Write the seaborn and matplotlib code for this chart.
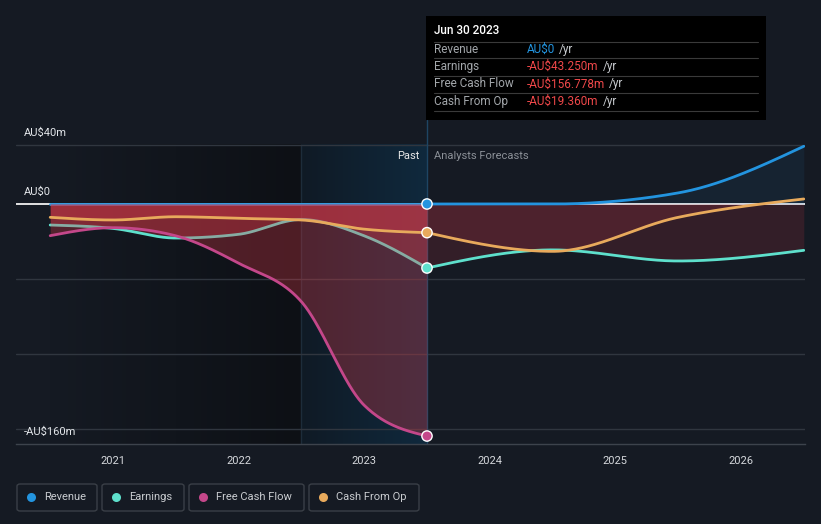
import numpy as np
import pandas as pd
import matplotlib
matplotlib.use("Agg")
import matplotlib.pyplot as plt
from matplotlib.patches import FancyBboxPatch, Rectangle
from matplotlib.colors import to_rgb
import seaborn as sns

# ---------------- data (AU$ m) ----------------
past_years = [2020.5, 2021.0, 2021.5, 2022.0, 2022.5, 2023.0, 2023.5]
revenue_past = [0, 0, 0, 0, 0, 0, 0]
earnings_past = [-14.2, -16.5, -23.0, -20.5, -10.5, -21.5, -43.25]
fcf_past = [-21.4, -16.0, -21.5, -40.0, -66.0, -136.0, -156.778]
cfo_past = [-9.0, -10.8, -8.6, -9.7, -10.8, -17.0, -19.36]

fc_years = [2023.5, 2024.5, 2025.5, 2026.5]
revenue_fc = [0, 0, 7.5, 39.0]
earnings_fc = [-43.25, -31.0, -38.5, -31.3]
cfo_fc = [-19.36, -32.0, -9.0, 3.4]

year_ticks = [2021, 2022, 2023, 2024, 2025, 2026]
series_names = ["Revenue", "Earnings", "Free Cash Flow", "Cash From Op"]
tooltip_date = "Jun 30 2023"
tooltip_values = ["AU$0", "-AU$43.250m", "-AU$156.778m", "-AU$19.360m"]
y_labels = ["AU$40m", "AU$0", "-AU$160m"]
y_label_values = [40, 0, -160]

C_REV = "#2394df"
C_EARN = "#5ee0cc"
C_FCF = "#c4478a"
C_CFO = "#e8aa5c"
BG = "#151a23"
C_NEG = "#e23b4a"


def monotone(xs, ys, n=60):
    """d3 curveMonotoneX style smoothing for drawing."""
    x = np.asarray(xs, float)
    y = np.asarray(ys, float)
    k = len(x)
    h = np.diff(x)
    s = np.diff(y) / h
    t = np.zeros(k)
    for i in range(1, k - 1):
        p = (s[i - 1] * h[i] + s[i] * h[i - 1]) / (h[i - 1] + h[i])
        t[i] = (np.sign(s[i - 1]) + np.sign(s[i])) * min(abs(s[i - 1]), abs(s[i]), 0.5 * abs(p))
    if k > 2:
        t[0] = (3 * s[0] - t[1]) / 2
        t[-1] = (3 * s[-1] - t[-2]) / 2
    else:
        t[0] = t[-1] = s[0]
    ox, oy = [], []
    for i in range(k - 1):
        u = np.linspace(0, 1, n, endpoint=(i == k - 2))
        x0, x1, y0, y1 = x[i], x[i + 1], y[i], y[i + 1]
        dx = (x1 - x0) / 3
        P = [(x0, y0), (x0 + dx, y0 + dx * t[i]), (x1 - dx, y1 - dx * t[i + 1]), (x1, y1)]
        b = [(1 - u) ** 3, 3 * u * (1 - u) ** 2, 3 * u ** 2 * (1 - u), u ** 3]
        ox.append(sum(b[j] * P[j][0] for j in range(4)))
        oy.append(sum(b[j] * P[j][1] for j in range(4)))
    return np.concatenate(ox), np.concatenate(oy)


sns.set_style("dark")
plt.rcParams["font.family"] = ["Roboto", "DejaVu Sans"]

W, H = 821, 524
fig = plt.figure(figsize=(W / 100, H / 100), dpi=100, facecolor=BG)

# axes geometry in pixels: x 16..805, y 100..444 ; scale 1.48 px per AU$m, 0 at y=204
PXM = 1.48
y_top = (204 - 100) / PXM
y_bot = (204 - 444) / PXM
x_left = 2021 + (16 - 113) / 125.6
x_right = 2021 + (805 - 113) / 125.6
ax = fig.add_axes([16 / W, (H - 444) / H, (805 - 16) / W, (444 - 100) / H])
ax.set_facecolor(BG)
ax.set_xlim(x_left, x_right)
ax.set_ylim(y_bot, y_top)


def hgrad(x0, x1, y0, y1, c0, c1, a0=1.0, a1=1.0, z=0.5):
    n = 256
    r0, r1 = np.array(to_rgb(c0)), np.array(to_rgb(c1))
    f = np.linspace(0, 1, n)[None, :, None]
    rgb = r0 * (1 - f) + r1 * f
    a = (a0 * (1 - f) + a1 * f)
    img = np.concatenate([rgb, a], axis=2)
    ax.imshow(img, extent=[x0, x1, y0, y1], aspect="auto", zorder=z, interpolation="bilinear")


hgrad(past_years[0], 2022.5, y_bot, 40, BG, "#0d1015", z=0.3)
hgrad(2022.5, 2023.5, y_bot, 40, "#0f1a25", "#10293d", z=0.3)
ax.plot([2022.5, 2022.5], [y_bot, 40], color="#1d2c3a", lw=1, zorder=0.4)
ax.set_xlim(x_left, x_right)
ax.set_ylim(y_bot, y_top)

# grid lines
for gv in [40, -75 / PXM, -150 / PXM, -225 / PXM]:
    ax.plot([x_left, x_right], [gv, gv], color="#30363f", lw=1, zorder=0.6)
ax.plot([x_left, x_right], [0, 0], color="#f2f2f2", lw=1.3, zorder=0.7)

# tooltip vertical line
ax.plot([2023.5, 2023.5], [(204 - 120) / PXM, y_bot], color="#1e4563", lw=1, zorder=0.8)

# series
series = [
    ("Revenue", revenue_past, revenue_fc, C_REV),
    ("Earnings", earnings_past, earnings_fc, C_EARN),
    ("Free Cash Flow", fcf_past, None, C_FCF),
    ("Cash From Op", cfo_past, cfo_fc, C_CFO),
]
z = 2
for name, pv, fv, col in series:
    xs, ys = monotone(past_years, pv)
    if name != "Revenue":
        ax.fill_between(xs, ys, 0, where=ys <= 0, color=C_NEG, alpha=0.31, lw=0, zorder=z)
    df = pd.DataFrame({"x": xs, "y": ys})
    sns.lineplot(data=df, x="x", y="y", color=col, lw=2.0, ax=ax, zorder=z + 0.5, legend=False,
                 estimator=None, sort=False)
    if fv is not None:
        fx, fy = monotone(fc_years, fv)
        neg = np.minimum(fy, 0)
        pos = np.maximum(fy, 0)
        ax.fill_between(fx, neg, 0, color=C_NEG, alpha=0.15, lw=0, zorder=1.5)
        ax.fill_between(fx, pos, 0, color=C_REV, alpha=0.08, lw=0, zorder=1.5)
        dff = pd.DataFrame({"x": fx, "y": fy})
        sns.lineplot(data=dff, x="x", y="y", color=col, lw=2.0, ax=ax, zorder=z + 0.5, legend=False,
                     estimator=None, sort=False)
    z += 1

# hover dots
dots = pd.DataFrame({
    "x": [past_years[-1]] * 4,
    "y": [revenue_past[-1], earnings_past[-1], fcf_past[-1], cfo_past[-1]],
    "s": series_names,
})
sns.scatterplot(data=dots, x="x", y="y", hue="s", palette=[C_REV, C_EARN, C_FCF, C_CFO],
                s=55, edgecolor="white", linewidth=1.0, ax=ax, zorder=10, legend=False)

ax.set_xlim(x_left, x_right)
ax.set_ylim(y_bot, y_top)
ax.set_xlabel("")
ax.set_ylabel("")
ax.grid(False)
for sp in ["top", "left", "right"]:
    ax.spines[sp].set_visible(False)
ax.spines["bottom"].set_color("#3d434c")
ax.spines["bottom"].set_linewidth(1)
ax.set_yticks([])
ax.set_xticks(year_ticks)
ax.set_xticklabels([str(y) for y in year_ticks], color="#d5d8dc", fontsize=8)
ax.tick_params(axis="x", colors="#3d434c", length=4, width=1, pad=5, labelcolor="#d5d8dc")


def fx_(px):
    return px / W


def fy_(py):
    return 1 - py / H


# y labels (placed just above their value; the bottom one sits a bit lower as in the source)
label_offsets = [12, 12, 9]
for v, lab, off in zip(y_label_values, y_labels, label_offsets):
    fig.text(fx_(24), fy_(204 - v * PXM - off), lab, color="#e3e6ea", fontsize=8, va="center", ha="left")

fig.text(fx_(419), fy_(156), "Past", color="#e8e8e8", fontsize=8, va="center", ha="right")
fig.text(fx_(434), fy_(156), "Analysts Forecasts", color="#8b9097", fontsize=8, va="center", ha="left")

# tooltip
TF = 8.5
fig.add_artist(Rectangle((fx_(426), fy_(120)), 340 / W, 104 / H, transform=fig.transFigure,
                         facecolor="#000000", edgecolor="none", zorder=20))
fig.text(fx_(434), fy_(31), tooltip_date, color="#ffffff", fontsize=TF, va="center", ha="left",
         zorder=21, fontweight="medium")
for ly in [41.7, 58.3, 76, 93.3, 111.3]:
    fig.add_artist(plt.Line2D([fx_(434), fx_(758)], [fy_(ly), fy_(ly)], color="#3a3a3a", lw=0.8,
                              transform=fig.transFigure, zorder=21))
row_y = [49.3, 66.3, 84, 101]
val_cols = [C_REV, "#f0484a", "#f0484a", "#f0484a"]
val_texts = []
for name, val, ry, vc in zip(series_names, tooltip_values, row_y, val_cols):
    fig.text(fx_(434), fy_(ry), name, color="#a3a7ab", fontsize=TF, va="center", ha="left", zorder=21)
    t = fig.text(fx_(527), fy_(ry), val, color=vc, fontsize=TF, va="center", ha="left", zorder=21)
    val_texts.append((t, ry))

# legend
legend_boxes = [(17, 97), (102, 184), (189, 304), (309, 419)]
legend_cols = [C_REV, C_EARN, C_FCF, C_CFO]
for (x0, x1), name, col in zip(legend_boxes, series_names, legend_cols):
    fig.add_artist(FancyBboxPatch((fx_(x0), fy_(511)), (x1 - x0) / W, 27 / H,
                                  boxstyle="round,pad=0,rounding_size=0.004", transform=fig.transFigure,
                                  facecolor="none", edgecolor="#3a3f47", lw=1, zorder=20))
    fig.add_artist(plt.Line2D([fx_(x0 + 14)], [fy_(497)], marker="o", markersize=6.5, color=col,
                              markeredgewidth=0, transform=fig.transFigure, zorder=21))
    fig.text(fx_(x0 + 27), fy_(497), name, color="#c9ccd0", fontsize=8, va="center", ha="left", zorder=21)

fig.canvas.draw()
r = fig.canvas.get_renderer()
for t, ry in val_texts:
    bb = t.get_window_extent(renderer=r)
    fig.text(bb.x1 / W + 4 / W, fy_(ry), "/yr", color="#c9ccd0", fontsize=TF, va="center", ha="left", zorder=21)

fig.savefig("out.png", dpi=100, facecolor=BG)
